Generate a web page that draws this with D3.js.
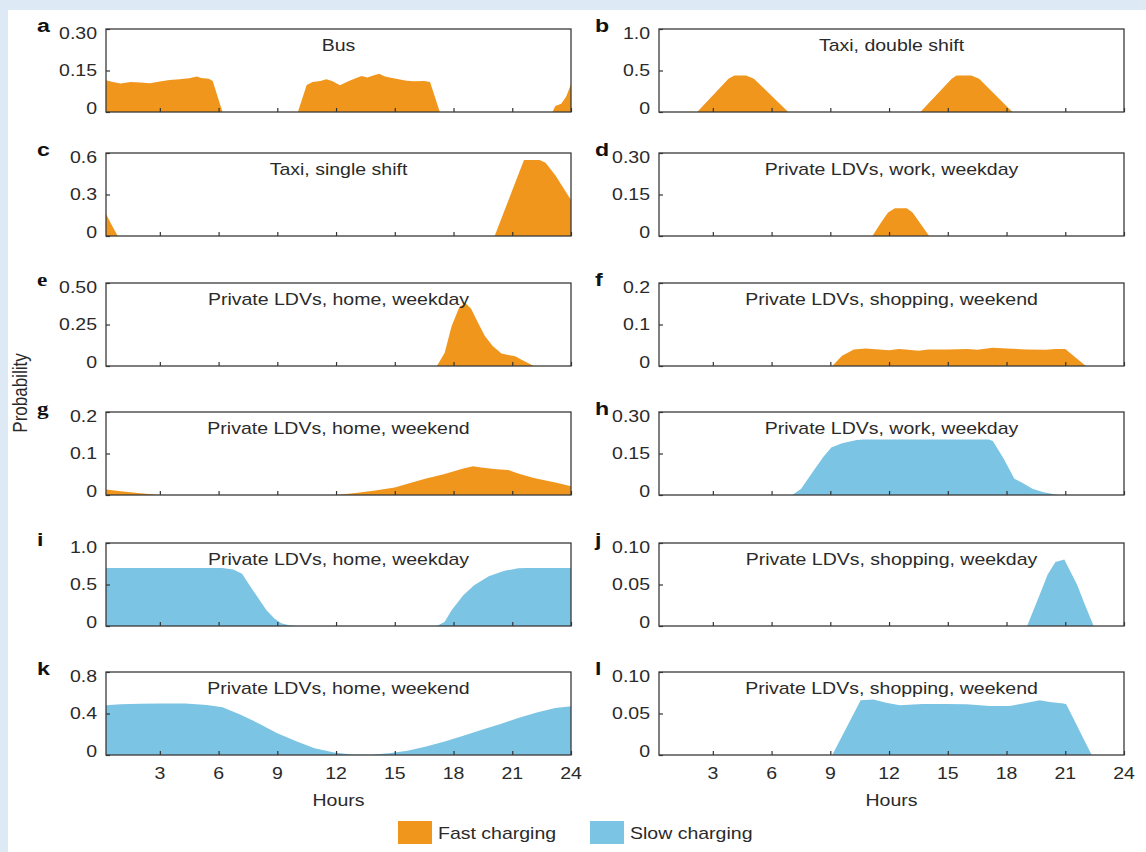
<!DOCTYPE html>
<html>
<head>
<meta charset="utf-8">
<script src="https://cdn.jsdelivr.net/npm/d3@7/dist/d3.min.js"></script>
<style>
  body { margin: 0; background: #dde9f5; }
  svg { display: block; }
  text { font-family: "Liberation Sans", Arial, Helvetica, sans-serif; fill: #2a2a2a; }
</style>
</head>
<body>
<script>
// ---- data: [hour, probability] ----
var hourTicks = [3, 6, 9, 12, 15, 18, 21, 24];

var panelLetters = ["a", "b", "c", "d", "e", "f", "g", "h", "i", "j", "k", "l"];
var panelTitles = ["Bus", "Taxi, double shift", "Taxi, single shift", "Private LDVs, work, weekday",
  "Private LDVs, home, weekday", "Private LDVs, shopping, weekend", "Private LDVs, home, weekend",
  "Private LDVs, work, weekday", "Private LDVs, home, weekday", "Private LDVs, shopping, weekday",
  "Private LDVs, home, weekend", "Private LDVs, shopping, weekend"];
var panelKinds = ["fast", "fast", "fast", "fast", "fast", "fast", "fast", "slow", "slow", "slow", "slow", "slow"];
var yMax = [0.30, 1.0, 0.6, 0.30, 0.50, 0.2, 0.2, 0.30, 1.0, 0.10, 0.8, 0.10];
var yTickLabels = [
  ["0", "0.15", "0.30"], ["0", "0.5", "1.0"], ["0", "0.3", "0.6"], ["0", "0.15", "0.30"],
  ["0", "0.25", "0.50"], ["0", "0.1", "0.2"], ["0", "0.1", "0.2"], ["0", "0.15", "0.30"],
  ["0", "0.5", "1.0"], ["0", "0.05", "0.10"], ["0", "0.4", "0.8"], ["0", "0.05", "0.10"]];

var busFast = [[0.25,0.115],[0.6,0.108],[1.0,0.103],[1.5,0.108],[2.0,0.107],[2.5,0.104],[3.0,0.110],
  [3.5,0.116],[4.0,0.118],[4.5,0.122],[4.9,0.128],[5.1,0.123],[5.5,0.120],[5.7,0.112],[6.2,0],
  [10.05,0],[10.5,0.098],[10.8,0.108],[11.2,0.112],[11.5,0.118],[11.8,0.112],[12.2,0.097],[12.6,0.110],
  [13.0,0.122],[13.3,0.130],[13.6,0.125],[13.9,0.132],[14.2,0.138],[14.5,0.128],[14.8,0.124],[15.2,0.118],
  [15.6,0.113],[16.0,0.111],[16.5,0.112],[16.8,0.108],[17.3,0],[23.05,0],[23.2,0.022],[23.5,0.030],
  [23.75,0.055],[24,0.10]];
var taxiDoubleFast = [[0.25,0],[2.2,0],[3.8,0.40],[4.1,0.44],[4.7,0.44],[5.1,0.40],[6.85,0],
  [13.6,0],[15.2,0.40],[15.45,0.44],[16.2,0.44],[16.6,0.40],[18.3,0],[24,0]];
var taxiSingleFast = [[0.25,0.16],[0.5,0.09],[0.85,0],[20.1,0],[21.0,0.33],[21.6,0.55],[22.4,0.55],
  [22.7,0.53],[23.2,0.44],[24,0.26]];
var workWeekdayFast = [[0.25,0],[11.15,0],[11.6,0.05],[11.95,0.085],[12.3,0.1],[12.9,0.1],[13.2,0.085],
  [14.05,0],[24,0]];
var homeWeekdayFast = [[0.25,0],[17.15,0],[17.55,0.08],[17.9,0.24],[18.3,0.355],[18.6,0.38],[18.9,0.345],
  [19.25,0.26],[19.6,0.18],[20.0,0.12],[20.45,0.075],[20.8,0.066],[21.15,0.058],[21.5,0.036],[22.1,0],[24,0]];
var shopWeekendFast = [[0.25,0],[9.1,0],[9.6,0.025],[10.2,0.040],[10.8,0.042],[11.5,0.040],[12.0,0.038],
  [12.5,0.041],[13.0,0.039],[13.5,0.037],[14.0,0.040],[15.0,0.040],[16.0,0.041],[16.5,0.039],[17.3,0.044],
  [18.0,0.042],[19.0,0.040],[20.0,0.039],[20.5,0.041],[21.0,0.041],[22.05,0],[24,0]];
var homeWeekendFast = [[0.25,0.013],[1.0,0.009],[2.0,0.004],[3.0,0],[12.0,0],[13.0,0.005],[14.0,0.011],
  [15.0,0.018],[15.7,0.028],[16.6,0.040],[17.5,0.050],[18.5,0.064],[19.0,0.069],[19.4,0.066],[20.2,0.062],
  [20.8,0.060],[21.3,0.052],[22.1,0.041],[23.2,0.030],[24,0.021]];
var workWeekdaySlow = [[0.25,0],[7.05,0],[7.5,0.022],[8.1,0.083],[8.65,0.138],[9.05,0.172],[9.6,0.187],
  [10.35,0.199],[10.7,0.201],[17.1,0.201],[17.3,0.195],[17.85,0.132],[18.4,0.059],[18.8,0.044],
  [19.35,0.022],[19.9,0.01],[20.5,0.002],[20.7,0],[24,0]];
var homeWeekdaySlow = [[0.25,0.70],[6.2,0.70],[6.75,0.68],[7.2,0.63],[7.7,0.45],[8.1,0.31],[8.45,0.19],
  [8.85,0.09],[9.2,0.032],[9.6,0.008],[10.0,0],[17.15,0],[17.55,0.052],[17.9,0.19],[18.5,0.37],
  [19.05,0.49],[19.8,0.60],[20.6,0.665],[21.3,0.695],[21.7,0.70],[24,0.70]];
var shopWeekdaySlow = [[0.25,0],[19.05,0],[19.75,0.041],[20.1,0.062],[20.5,0.077],[20.95,0.080],
  [21.6,0.05],[22.0,0.026],[22.45,0],[24,0]];
var homeWeekendSlow = [[0.25,0.479],[1,0.488],[2,0.495],[3,0.496],[4.3,0.496],[5.4,0.483],[6.2,0.46],
  [7.1,0.39],[8.1,0.30],[9.0,0.21],[10.0,0.13],[10.9,0.065],[11.9,0.023],[12.8,0.006],[13.8,0.003],
  [14.7,0.016],[15.65,0.042],[16.6,0.081],[17.55,0.13],[18.5,0.185],[19.45,0.243],[20.4,0.30],
  [21.3,0.356],[22.3,0.411],[23.2,0.453],[24,0.47]];
var shopWeekendSlow = [[0.25,0],[9.1,0],[10.55,0.066],[11.2,0.067],[11.85,0.063],[12.55,0.060],
  [13.7,0.0615],[14.9,0.0615],[15.95,0.061],[17.15,0.059],[18.15,0.059],[18.85,0.062],[19.7,0.066],
  [20.2,0.064],[20.9,0.062],[21.05,0.061],[22.35,0],[24,0]];

var panelSeries = [busFast, taxiDoubleFast, taxiSingleFast, workWeekdayFast, homeWeekdayFast,
  shopWeekendFast, homeWeekendFast, workWeekdaySlow, homeWeekdaySlow, shopWeekdaySlow,
  homeWeekendSlow, shopWeekendSlow];

var legendLabels = ["Fast charging", "Slow charging"];

// ---- layout ----
var width = 1146, height = 852;
var colors = { fast: "#f0961c", slow: "#7cc4e4" };
var colX = [106, 659];       // left edge of each column's axes
var axW = 465, axH = 83;
var rowTop = [29, 153, 283, 412, 543, 672];
var SX = 1.22;               // the source figure is stretched horizontally

var svg = d3.select("body").append("svg")
  .attr("width", width)
  .attr("height", height);

// white sheet over the light blue page
svg.append("rect")
  .attr("x", 8).attr("y", 10)
  .attr("width", width - 8).attr("height", height - 10)
  .attr("fill", "#ffffff");

// text helper, keeps the horizontal stretch of the original
function addText(parent, x, y, str, anchor, size, extra) {
  var t = parent.append("text")
    .attr("transform", "translate(" + x + "," + y + ") scale(" + SX + ",1)")
    .attr("text-anchor", anchor || "start")
    .style("font-size", (size || 16) + "px")
    .text(str);
  if (extra) extra(t);
  return t;
}

panelSeries.forEach(function(series, i) {
  var col = i % 2, row = Math.floor(i / 2);
  var x0 = colX[col], top = rowTop[row];
  var g = svg.append("g").attr("transform", "translate(" + x0 + "," + top + ")");

  var x = d3.scaleLinear().domain([0.25, 24]).range([0, axW]);
  var y = d3.scaleLinear().domain([0, yMax[i]]).range([axH, 0]);

  // filled profile
  var area = d3.area()
    .x(function(d) { return x(d[0]); })
    .y0(axH)
    .y1(function(d) { return y(d[1]); });
  g.append("path")
    .datum(series)
    .attr("d", area)
    .attr("fill", colors[panelKinds[i]]);

  // title inside the axes
  addText(g, axW / 2, 22, panelTitles[i], "middle", 16);

  // bottom axis, ticks pointing inward
  var xAxis = d3.axisBottom(x).tickValues(hourTicks).tickSizeInner(-4).tickSizeOuter(0)
    .tickFormat(function() { return ""; });
  var gx = g.append("g").attr("transform", "translate(0," + axH + ")").call(xAxis);
  gx.select(".domain").remove();
  gx.selectAll("line").attr("stroke", "#333").attr("stroke-width", 1.2);

  // left axis, ticks pointing inward
  var yTicks = [0, yMax[i] / 2, yMax[i]];
  var yAxis = d3.axisLeft(y).tickValues(yTicks).tickSizeInner(-4).tickSizeOuter(0)
    .tickFormat(function() { return ""; });
  var gy = g.append("g").call(yAxis);
  gy.select(".domain").remove();
  gy.selectAll("line").attr("stroke", "#333").attr("stroke-width", 1.2);

  // y tick labels (end labels nudged inward like the original)
  yTicks.forEach(function(v, k) {
    var shift = k === 0 ? -4 : (k === 2 ? 4 : 0);
    addText(g, -9, y(v) + shift + 5.5, yTickLabels[i][k], "end", 16);
  });

  // box
  g.append("rect")
    .attr("x", 0).attr("y", 0)
    .attr("width", axW).attr("height", axH)
    .attr("fill", "none")
    .attr("stroke", "#3a3a3a")
    .attr("stroke-width", 1.3);

  // panel letter
  var serifLetter = panelLetters[i] === "e" || panelLetters[i] === "g";
  addText(g, col === 0 ? -69 : -64, 3, panelLetters[i], "start", 19, function(t) {
    t.style("font-weight", "bold")
     .style("fill", "#111")
     .style("font-family", serifLetter ? "'Liberation Serif', 'DejaVu Serif', serif" : null);
  });

  // x tick labels and axis title on the bottom row
  if (row === 5) {
    hourTicks.forEach(function(h) {
      addText(g, x(h), axH + 24, String(h), "middle", 16);
    });
    addText(g, axW / 2, axH + 51, "Hours", "middle", 16);
  }
});

// y axis title
svg.append("text")
  .attr("transform", "translate(27,393) rotate(-90) scale(1," + SX + ")")
  .attr("text-anchor", "middle")
  .style("font-size", "17px")
  .text("Probability");

// legend
var legendX = [398, 590];
legendLabels.forEach(function(lab, k) {
  svg.append("rect")
    .attr("x", legendX[k]).attr("y", 821)
    .attr("width", 34).attr("height", 23)
    .attr("fill", k === 0 ? colors.fast : colors.slow);
  addText(svg, legendX[k] + 40, 839, lab, "start", 16);
});
</script>
</body>
</html>
